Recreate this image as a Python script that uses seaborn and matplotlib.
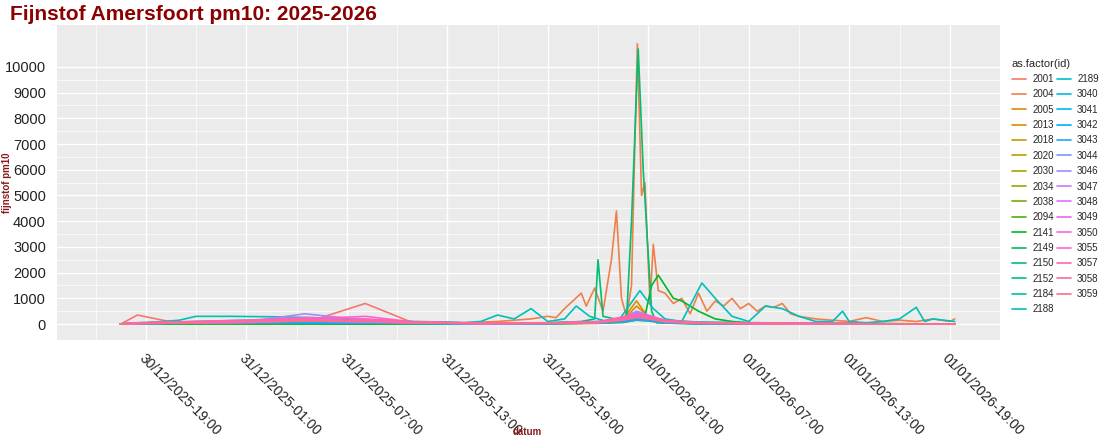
import numpy as np
import pandas as pd
import matplotlib
matplotlib.use("Agg")
import matplotlib.pyplot as plt
import seaborn as sns
from matplotlib.lines import Line2D

# hours after 30/12/2025 19:00
START = pd.Timestamp("2025-12-30 19:00")

SENSOR_IDS = ["2001", "2004", "2005", "2013", "2018", "2020", "2030", "2034", "2038",
              "2094", "2141", "2149", "2150", "2152", "2184", "2188", "2189", "3040",
              "3041", "3042", "3043", "3044", "3046", "3047", "3048", "3049", "3050",
              "3055", "3057", "3058", "3059"]

# main series: own time grid (hours) and values
T_2004 = [-1.5, 5, 12, 19, 21, 22, 23, 24, 24.5, 25, 25.5, 26, 26.3, 26.8, 27.3, 27.8, 28.1,
          28.4, 28.7, 29, 29.2, 29.35, 29.6, 29.8, 30.1, 30.3, 30.6, 31, 31.5, 32, 32.5, 33,
          33.5, 34, 34.5, 35, 35.5, 36, 36.5, 37, 37.5, 38, 38.5, 39, 40, 41, 42, 43, 44,
          45, 46, 47, 48, 48.3]
V_2004 = [0, 20, 30, 50, 100, 150, 200, 300, 250, 600, 900, 1200, 700, 1400, 500, 2500, 4400,
          1000, 300, 1500, 7000, 10900, 5000, 5500, 800, 3100, 1300, 1200, 800, 1000, 400,
          1200, 500, 900, 700, 1000, 600, 800, 500, 700, 650, 800, 400, 300, 200, 150, 100,
          250, 100, 150, 100, 200, 100, 200]

T_2150 = [-1.5, 3, 8, 14, 20, 24, 26, 26.8, 27.0, 27.3, 28, 28.7, 29.0, 29.4, 29.7, 30.2,
          30.5, 32, 36, 40, 44, 48.3]
V_2150 = [0, 30, 50, 20, 0, 40, 100, 200, 2500, 300, 200, 150, 4000, 10700, 6000, 500, 50,
          20, 0, 10, 0, 0]

T_2141 = [-1.5, 10, 20, 26, 28, 29, 29.8, 30.2, 30.6, 31, 31.5, 32, 33, 34, 35, 36, 40, 48.3]
V_2141 = [0, 0, 0, 50, 100, 200, 300, 1500, 1900, 1500, 1000, 900, 500, 200, 100, 50, 0, 0]

T_2188 = [-1.5, -1, 0, 1, 2, 3, 5, 8, 10, 11, 12, 14, 16, 18, 19, 20, 21, 22, 23, 24,
          25, 25.7, 26.5, 27.5, 28.3, 29.5, 30.3, 31, 32, 33.2, 34, 35, 36, 37, 38, 39,
          40, 41, 41.6, 42, 43, 44, 45, 46, 46.5, 47, 48.3]
V_2188 = [0, 40, 60, 100, 150, 300, 300, 280, 250, 230, 200, 150, 100, 80, 50, 100, 350, 200,
          600, 100, 200, 700, 300, 100, 200, 1300, 600, 200, 100, 1600, 1000, 300, 100, 700,
          600, 300, 100, 100, 500, 100, 50, 100, 200, 650, 100, 200, 100]

# minor series on a shared coarse grid
T_MINOR = [-1.5, -0.5, 2, 6, 9.5, 13.1, 16, 20, 24, 27, 28.5, 29.3, 30, 31, 33, 38, 43, 48.3]
MINOR = {
    "2001": [0, 350, 20, 60, 50, 800, 40, 20, 10, 30, 100, 200, 150, 50, 20, 0, 10, 0],
    "2005": [0, 10, 20, 30, 40, 30, 20, 10, 20, 40, 150, 700, 300, 80, 30, 10, 0, 0],
    "2013": [0, 20, 30, 50, 40, 30, 20, 10, 30, 50, 200, 900, 250, 100, 40, 20, 10, 0],
    "2018": [0, 10, 40, 80, 60, 40, 30, 20, 20, 40, 100, 300, 150, 60, 20, 10, 0, 0],
    "2020": [0, 20, 50, 40, 30, 20, 10, 10, 30, 50, 150, 250, 200, 80, 30, 10, 10, 0],
    "2030": [0, 10, 30, 60, 50, 40, 30, 20, 30, 60, 120, 350, 200, 100, 40, 20, 10, 0],
    "2034": [0, 30, 60, 70, 50, 30, 20, 10, 40, 70, 150, 300, 250, 90, 30, 20, 10, 0],
    "2038": [0, 20, 40, 100, 80, 60, 40, 20, 20, 50, 100, 250, 180, 70, 20, 10, 0, 0],
    "2094": [0, 10, 20, 30, 20, 10, 10, 10, 20, 30, 60, 150, 120, 40, 20, 10, 0, 0],
    "2149": [0, 30, 60, 120, 100, 80, 50, 30, 40, 80, 200, 300, 250, 100, 50, 30, 20, 0],
    "2152": [0, 20, 50, 80, 120, 100, 60, 30, 40, 60, 150, 250, 200, 100, 40, 20, 10, 0],
    "2184": [0, 40, 80, 150, 200, 150, 80, 40, 50, 100, 200, 400, 300, 150, 80, 40, 20, 0],
    "2189": [0, 20, 50, 60, 50, 40, 30, 20, 30, 50, 100, 200, 150, 60, 20, 10, 10, 0],
    "3040": [0, 10, 60, 90, 70, 50, 30, 20, 30, 50, 120, 250, 200, 80, 30, 10, 0, 0],
    "3041": [0, 20, 40, 70, 60, 50, 30, 20, 30, 40, 100, 200, 160, 60, 20, 10, 0, 0],
    "3042": [0, 30, 50, 60, 90, 70, 40, 20, 20, 40, 90, 180, 140, 50, 20, 10, 0, 0],
    "3043": [0, 20, 30, 50, 60, 40, 30, 10, 20, 40, 80, 160, 130, 50, 20, 10, 0, 0],
    "3044": [0, 40, 70, 100, 150, 120, 60, 30, 40, 60, 200, 450, 300, 100, 40, 20, 10, 0],
    "3046": [0, 30, 60, 90, 400, 150, 70, 30, 40, 70, 250, 500, 350, 120, 50, 20, 10, 0],
    "3047": [0, 20, 40, 80, 200, 100, 50, 20, 30, 60, 200, 400, 300, 100, 40, 20, 10, 0],
    "3048": [0, 30, 50, 70, 150, 90, 50, 20, 30, 60, 220, 380, 280, 110, 40, 20, 10, 0],
    "3049": [0, 20, 40, 60, 120, 80, 40, 20, 30, 50, 180, 350, 260, 100, 30, 10, 0, 0],
    "3050": [0, 30, 60, 100, 180, 120, 60, 30, 40, 70, 250, 420, 320, 130, 50, 20, 10, 0],
    "3055": [0, 40, 80, 120, 200, 300, 80, 30, 40, 80, 250, 400, 300, 120, 50, 20, 10, 0],
    "3057": [0, 50, 90, 150, 250, 200, 90, 40, 50, 90, 280, 380, 330, 150, 60, 30, 10, 0],
    "3058": [0, 30, 60, 100, 150, 120, 60, 30, 40, 70, 200, 300, 250, 100, 40, 20, 10, 0],
    "3059": [0, 20, 40, 80, 120, 100, 50, 20, 30, 60, 150, 250, 200, 80, 30, 10, 0, 0],
}


def hcl_to_hex(h, c=100, l=65):
    # CIE LCh(uv) -> sRGB, like R's hcl()
    hr = np.deg2rad(h)
    u, v = c * np.cos(hr), c * np.sin(hr)
    Xn, Yn, Zn = 95.047, 100.0, 108.883
    un = 4 * Xn / (Xn + 15 * Yn + 3 * Zn)
    vn = 9 * Yn / (Xn + 15 * Yn + 3 * Zn)
    Y = Yn * (((l + 16) / 116) ** 3 if l > 8 else l / 903.3)
    up, vp = u / (13 * l) + un, v / (13 * l) + vn
    X = 9.0 * Y * up / (4 * vp)
    Z = -X / 3 - 5 * Y + 3 * Y / vp
    M = np.array([[3.2406, -1.5372, -0.4986], [-0.9689, 1.8758, 0.0415], [0.0557, -0.2040, 1.0570]])
    rgb = M @ (np.array([X, Y, Z]) / 100)
    rgb = np.where(rgb > 0.0031308, 1.055 * np.clip(rgb, 0, None) ** (1 / 2.4) - 0.055, 12.92 * rgb)
    rgb = np.clip(rgb, 0, 1)
    return matplotlib.colors.to_hex(rgb)


n = len(SENSOR_IDS)
hues = np.linspace(15, 375, n + 1)[:n]
palette = {sid: hcl_to_hex(h) for sid, h in zip(SENSOR_IDS, hues)}

rows = []
series = {"2004": (T_2004, V_2004), "2150": (T_2150, V_2150),
          "2141": (T_2141, V_2141), "2188": (T_2188, V_2188)}
for sid, vals in MINOR.items():
    series[sid] = (T_MINOR, vals)
for sid in SENSOR_IDS:
    ts, vs = series[sid]
    for t, v in zip(ts, vs):
        rows.append({"id": sid, "datum": START + pd.Timedelta(hours=t), "pm10": v})
df = pd.DataFrame(rows)

sns.set_theme(style="darkgrid", rc={"axes.facecolor": "#EBEBEB", "grid.color": "white"})
plt.rcParams["font.family"] = ["Liberation Sans", "DejaVu Sans"]
fig = plt.figure(figsize=(11.2, 4.4), dpi=100)
ax = fig.add_axes([57 / 1120, 100 / 440, 943 / 1120, 315 / 440])

sns.lineplot(data=df, x="datum", y="pm10", hue="id", hue_order=SENSOR_IDS,
             palette=palette, linewidth=1.2, legend=False, ax=ax, estimator=None)

ax.set_xlim(START + pd.Timedelta(hours=-5.3), START + pd.Timedelta(hours=49.8))
ax.set_ylim(-620, 11630)
ax.set_yticks(range(0, 10001, 1000))
ax.set_yticks(range(500, 10001, 1000), minor=True)
ticks = [START + pd.Timedelta(hours=6 * k) for k in range(9)]
ax.set_xticks(ticks)
ax.set_xticks([START + pd.Timedelta(hours=6 * k - 3) for k in range(10)], minor=True)
ax.set_xticklabels([t.strftime("%d/%m/%Y-%H:%M") for t in ticks], rotation=-45,
                   ha="left", rotation_mode="anchor", fontsize=10, color="#222222")
ax.tick_params(axis="y", labelsize=10.5, labelcolor="#222222", pad=2)
ax.tick_params(axis="x", pad=2)
ax.grid(which="major", color="white", linewidth=1.0)
ax.grid(which="minor", color="white", linewidth=0.5)
for s in ax.spines.values():
    s.set_visible(False)

ax.set_xlabel("")
ax.set_ylabel("")
fig.text(527 / 1120, 1 - 432 / 440, "datum", color="#8B1A1A", fontsize=7,
         fontweight="bold", ha="center", va="center")
fig.text(7 / 1120, 1 - 183 / 440, "fijnstof pm10", color="#8B1A1A", fontsize=7,
         fontweight="bold", ha="center", va="center", rotation=90)

fig.text(10 / 1120, 1 - 14 / 440, "Fijnstof Amersfoort pm10: 2025-2026", color="#8B0000",
         fontsize=15, fontweight="bold", va="center")

handles = [Line2D([], [], color=palette[s], lw=1.2) for s in SENSOR_IDS]
leg = fig.legend(handles, SENSOR_IDS, ncol=2, title="as.factor(id)", loc="upper left",
                 bbox_to_anchor=(1003 / 1120, 1 - 50 / 440), frameon=False, fontsize=7,
                 title_fontsize=8, handlelength=1.5, labelspacing=0.55, columnspacing=0.3,
                 handletextpad=0.6)
leg._legend_box.align = "left"

fig.savefig("out.png", dpi=100)
